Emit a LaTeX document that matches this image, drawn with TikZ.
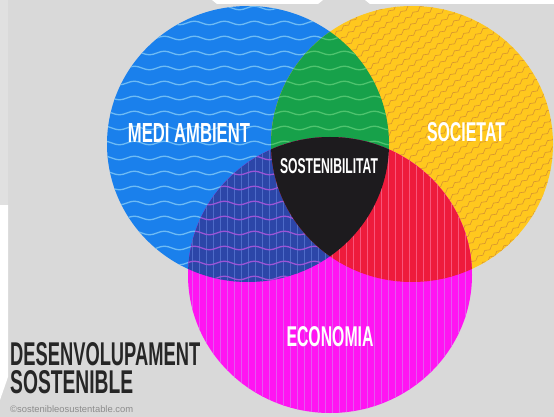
\documentclass[tikz,border=0pt]{standalone}
\usepackage{fontspec}
\setmainfont{Liberation Sans}
\usepackage{graphicx}
\usetikzlibrary{decorations.pathmorphing}
\definecolor{bg}{HTML}{D9D9D9}
\definecolor{bgl}{HTML}{E0E0E0}
\definecolor{cblue}{HTML}{1A80EC}
\definecolor{cbluel}{HTML}{6DBBF4}
\definecolor{cyel}{HTML}{FFC81E}
\definecolor{cyell}{HTML}{D99630}
\definecolor{cmag}{HTML}{FF14F2}
\definecolor{cmagl}{HTML}{E458F0}
\definecolor{cgreen}{HTML}{17A14A}
\definecolor{cgreenl}{HTML}{4FC36E}
\definecolor{cdblue}{HTML}{2C46A8}
\definecolor{cdbluev}{HTML}{4E6BC8}
\definecolor{cdbluew}{HTML}{9A55D6}
\definecolor{cred}{HTML}{EE1B3C}
\definecolor{credl}{HTML}{F8557A}
\definecolor{cblack}{HTML}{1D1B1E}
\definecolor{ctext}{HTML}{262626}
\definecolor{ccopy}{HTML}{8C8C8C}
\tikzset{
  hwave/.style={decorate, decoration={snake, amplitude=1.8pt, segment length=30pt}, line width=1.3pt},
  dwave/.style={decorate, decoration={snake, amplitude=1.3pt, segment length=9pt}, line width=0.65pt},
  vline/.style={line width=0.9pt},
  lab/.style={inner sep=0pt, text=white, font=\bfseries},
}
\newcommand\hwaves[1]{\foreach \yy in {8,23,...,293}{\draw[hwave,#1] (95,\yy) -- (420,\yy);}}
\newcommand\vlines[1]{\foreach \xx in {185,192,...,480}{\draw[vline,#1] (\xx,125) -- (\xx,420);}}
\def\blueE{(248,144) ellipse (141 and 138)}
\def\yelE{(412,144) ellipse (141 and 138)}
\def\magE{(330,275) ellipse (142 and 138)}
\begin{document}
\begin{tikzpicture}[x=1pt,y=-1pt]
\useasboundingbox (0,0) rectangle (554,417);
\fill[bg] (0,0) rectangle (554,417);
\fill[bgl] (0,0) rectangle (8,205);
\fill[white] (0,205) -- (8,205) -- (8,377) -- (0,400) -- cycle;
\fill[white] (212,0) -- (323,0) -- (318,4) -- (217,4) -- cycle;
\fill[white] (365,0) -- (554,0) -- (554,4) -- (370,4) -- cycle;
% blue circle
\fill[cblue] \blueE;
\begin{scope} \clip \blueE; \hwaves{cbluel} \end{scope}
% yellow circle
\fill[cyel] \yelE;
\begin{scope}
  \clip \yelE;
  \begin{scope}[shift={(412,144)},rotate=38]
    \foreach \k in {-150,-142,...,150}{\draw[dwave,cyell] (-200,\k) -- (200,\k);}
  \end{scope}
\end{scope}
% magenta circle
\fill[cmag] \magE;
\begin{scope} \clip \magE; \vlines{cmagl} \end{scope}
% green overlap
\begin{scope} \clip \blueE; \fill[cgreen] \yelE; \clip \yelE; \hwaves{cgreenl} \end{scope}
% dark blue overlap
\begin{scope} \clip \blueE; \fill[cdblue] \magE; \clip \magE; \vlines{cdbluev} \hwaves{cdbluew} \end{scope}
% red overlap
\begin{scope} \clip \yelE; \fill[cred] \magE; \clip \magE; \vlines{credl} \end{scope}
% black centre
\begin{scope} \clip \blueE; \clip \yelE; \fill[cblack] \magE; \end{scope}
% labels
\node[lab] (medi) at (189,132.5) {\resizebox{122pt}{19pt}{MEDI AMBIENT}};
\node[lab] (soc) at (466,132.5) {\resizebox{78pt}{19pt}{SOCIETAT}};
\node[lab] (sost) at (329,166) {\resizebox{98pt}{15pt}{SOSTENIBILITAT}};
\node[lab] (eco) at (330,337) {\resizebox{87pt}{20pt}{ECONOMIA}};
\node[lab,text=ctext,anchor=north west,align=left] (des) at (10,342)
  {\resizebox{190pt}{23pt}{DESENVOLUPAMENT}\\[4pt]\resizebox{123pt}{23pt}{SOSTENIBLE}};
\node[inner sep=0pt,text=ccopy,anchor=south west] (copy) at (10,413) {\resizebox{123pt}{!}{©sostenibleosustentable.com}};
\end{tikzpicture}
\end{document}
